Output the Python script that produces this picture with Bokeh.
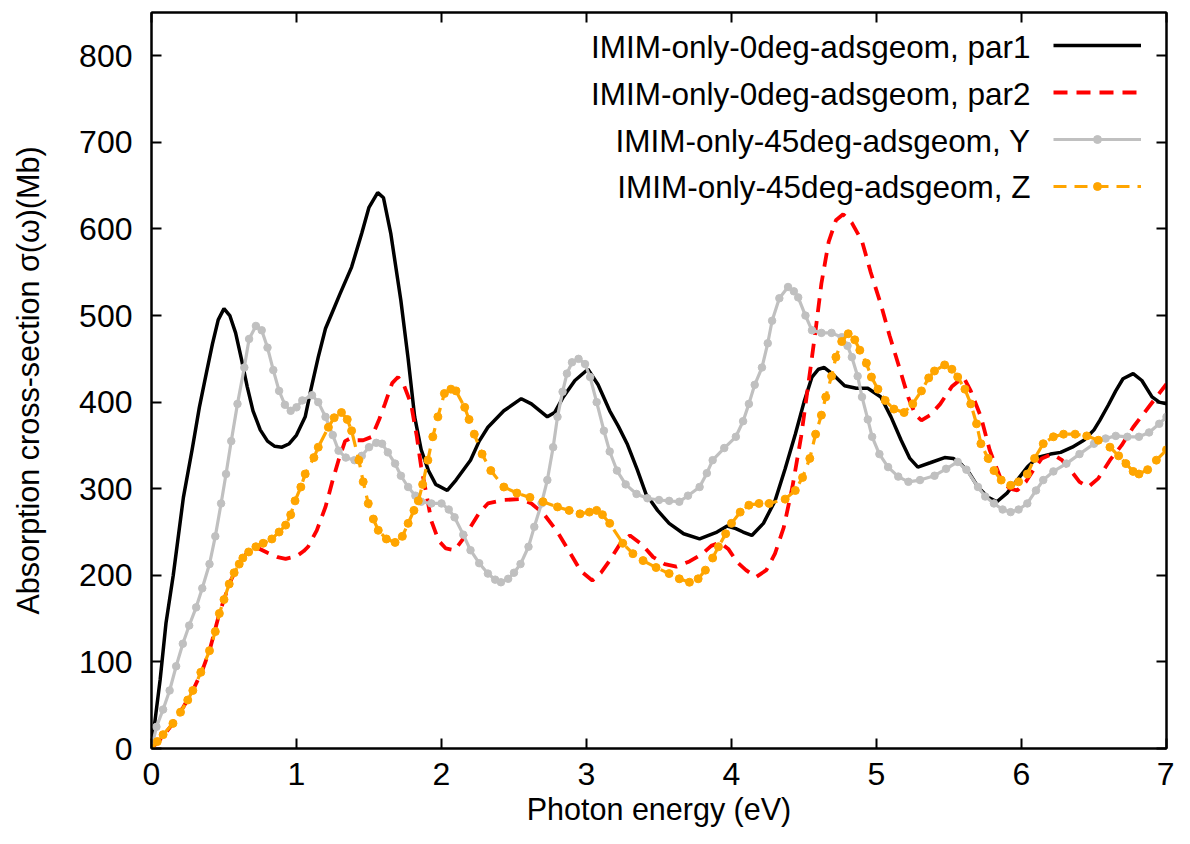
from bokeh.plotting import figure
from bokeh.models import Range1d, FixedTicker, LinearAxis, Legend, LegendItem, Label
from bokeh.embed import file_html
from bokeh.resources import INLINE

# ---------------- data ----------------
par1_x = [0, 0.03, 0.06, 0.10, 0.15, 0.22, 0.28, 0.33, 0.38, 0.42, 0.46, 0.50, 0.54, 0.58, 0.62, 0.66, 0.70,
          0.75, 0.80, 0.85, 0.90, 0.95, 1.00, 1.06, 1.10, 1.15, 1.20, 1.25, 1.30, 1.38, 1.45, 1.50, 1.56, 1.60,
          1.65, 1.72, 1.77, 1.815, 1.86, 1.91, 1.96, 2.04, 2.10, 2.20, 2.26, 2.32, 2.43, 2.55, 2.62, 2.73, 2.78,
          2.84, 2.92, 3.01, 3.08, 3.16, 3.22, 3.28, 3.35, 3.41, 3.49, 3.57, 3.67, 3.78, 3.90, 3.97, 4.03, 4.08,
          4.14, 4.22, 4.30, 4.37, 4.44, 4.50, 4.555, 4.60, 4.64, 4.70, 4.78, 4.86, 4.94, 5.03, 5.10, 5.17, 5.23,
          5.285, 5.37, 5.47, 5.53, 5.58, 5.64, 5.70, 5.77, 5.83, 5.90, 5.97, 6.04, 6.11, 6.20, 6.27, 6.35, 6.43,
          6.50, 6.54, 6.60, 6.65, 6.70, 6.77, 6.83, 6.90, 6.95, 7.0]
par1_y = [0, 40, 80, 145, 200, 290, 345, 394, 435, 467, 495, 508, 500, 480, 450, 418, 390,
          368, 355, 349, 348, 352, 362, 383, 415, 452, 485, 505, 525, 556, 595, 625, 642, 636,
          595, 517, 450, 383, 345, 321, 305, 298, 310, 333, 355, 371, 390, 404, 398, 383, 388,
          406, 425, 438, 420, 390, 372, 352, 322, 294, 275, 260, 248, 242, 250, 257, 254, 250,
          246, 260, 286, 323, 363, 400, 429, 438, 440, 432, 419, 416, 416, 406, 383, 356, 335,
          325, 330, 336, 335, 329, 318, 302, 290, 285, 295, 310, 325, 336, 340, 342, 348, 356,
          368, 379, 397, 413, 427, 433, 425, 406, 400, 398]

par2_x = [0, 0.07, 0.148, 0.22, 0.285, 0.35, 0.40, 0.468, 0.536, 0.60, 0.65, 0.70, 0.74, 0.80, 0.87, 0.925,
          1.00, 1.05, 1.08, 1.14, 1.20, 1.25, 1.29, 1.335, 1.37, 1.40, 1.46, 1.52, 1.57, 1.61, 1.66, 1.70, 1.74,
          1.79, 1.83, 1.86, 1.90, 1.93, 1.98, 2.03, 2.09, 2.14, 2.20, 2.26, 2.32, 2.43, 2.545, 2.62, 2.705, 2.80,
          2.89, 2.96, 3.04, 3.10, 3.16, 3.23, 3.30, 3.38, 3.46, 3.54, 3.62, 3.71, 3.80, 3.86, 3.92, 3.98, 4.04,
          4.10, 4.17, 4.24, 4.30, 4.36, 4.42, 4.48, 4.53, 4.58, 4.62, 4.67, 4.72, 4.77, 4.83, 4.90, 4.96, 5.03,
          5.09, 5.15, 5.22, 5.27, 5.31, 5.37, 5.44, 5.52, 5.60, 5.65, 5.72, 5.78, 5.86, 5.92, 5.97, 6.03, 6.08,
          6.14, 6.21, 6.28, 6.34, 6.40, 6.46, 6.53, 6.61, 6.69, 6.77, 6.88, 7.0]
par2_y = [0, 12, 29, 48, 67, 90, 113, 156, 190, 213, 224, 230, 231, 226, 221, 219,
          222, 228, 233, 252, 279, 310, 333, 355, 358, 356, 356, 360, 380, 398, 422, 429, 420,
          398, 360, 325, 290, 263, 240, 231, 229, 240, 256, 272, 283, 287, 288, 283, 271, 250,
          225, 205, 194, 203, 217, 236, 246, 236, 221, 213, 210, 216, 225, 234, 238, 230, 215,
          206, 198, 206, 225, 255, 302, 360, 421, 483, 537, 585, 610, 617, 607, 586, 550, 513,
          477, 444, 405, 385, 379, 385, 398, 418, 429, 413, 383, 345, 310, 300, 298, 308, 321,
          335, 340, 333, 321, 308, 302, 312, 333, 350, 371, 395, 421]

y45_x = [0, 0.034, 0.08, 0.125, 0.17, 0.216, 0.26, 0.308, 0.35, 0.40, 0.44, 0.48, 0.514, 0.55, 0.593, 0.64,
         0.673, 0.72, 0.76, 0.80, 0.84, 0.88, 0.92, 0.96, 1.00, 1.04, 1.107, 1.15, 1.20, 1.25, 1.29, 1.34, 1.40,
         1.45, 1.50, 1.55, 1.59, 1.63, 1.68, 1.72, 1.77, 1.82, 1.86, 1.93, 2.00, 2.05, 2.09, 2.15, 2.20, 2.26,
         2.32, 2.37, 2.41, 2.46, 2.50, 2.545, 2.60, 2.64, 2.69, 2.73, 2.77, 2.80, 2.835, 2.865, 2.90, 2.945,
         2.99, 3.025, 3.07, 3.12, 3.16, 3.21, 3.27, 3.345, 3.42, 3.50, 3.57, 3.64, 3.70, 3.78, 3.83, 3.87,
         3.95, 4.03, 4.08, 4.12, 4.16, 4.21, 4.25, 4.28, 4.33, 4.39, 4.43, 4.46, 4.51, 4.555, 4.62, 4.69,
         4.76, 4.80, 4.83, 4.87, 4.90, 4.94, 4.97, 5.02, 5.08, 5.15, 5.22, 5.30, 5.40, 5.48, 5.56, 5.62, 5.70,
         5.75, 5.81, 5.87, 5.925, 5.98, 6.04, 6.10, 6.15, 6.22, 6.31, 6.40, 6.50, 6.58, 6.65, 6.73, 6.81,
         6.88, 6.95, 7.0]
y45_y = [0, 25, 45, 67, 95, 121, 142, 163, 185, 213, 245, 283, 317, 355, 398, 440,
         473, 488, 483, 463, 437, 413, 397, 390, 394, 402, 408, 400, 383, 362, 344, 336, 333,
         338, 348, 353, 352, 342, 329, 315, 302, 292, 285, 283, 283, 276, 267, 247, 229, 214,
         202, 195, 192, 196, 203, 213, 233, 256, 283, 310, 348, 383, 412, 433, 446, 450,
         444, 429, 400, 367, 343, 321, 305, 294, 289, 287, 286, 285, 292, 302, 318, 333,
         347, 360, 378, 398, 420, 440, 468, 494, 520, 533, 528, 521, 500, 483, 480, 480,
         475, 465, 452, 430, 406, 380, 360, 340, 325, 314, 308, 310, 315, 323, 331, 322, 302,
         291, 283, 276, 273, 276, 283, 298, 310, 320, 329, 340, 352, 358, 361, 360, 360,
         365, 375, 383]

z45_x = [0, 0.04, 0.08, 0.148, 0.20, 0.25, 0.285, 0.34, 0.40, 0.44, 0.468, 0.50, 0.536, 0.57, 0.605, 0.63,
         0.67, 0.72, 0.77, 0.83, 0.88, 0.925, 0.96, 0.99, 1.03, 1.06, 1.12, 1.15, 1.22, 1.26, 1.31, 1.35, 1.38,
         1.43, 1.46, 1.495, 1.53, 1.564, 1.62, 1.68, 1.73, 1.77, 1.81, 1.84, 1.87, 1.906, 1.94, 1.975, 2.02,
         2.065, 2.10, 2.16, 2.19, 2.226, 2.28, 2.34, 2.43, 2.52, 2.61, 2.70, 2.80, 2.88, 2.955, 3.02, 3.07,
         3.11, 3.16, 3.25, 3.32, 3.39, 3.48, 3.57, 3.64, 3.71, 3.77, 3.82, 3.87, 3.91, 3.96, 4.00, 4.06, 4.12,
         4.19, 4.26, 4.37, 4.44, 4.49, 4.54, 4.58, 4.62, 4.65, 4.69, 4.72, 4.76, 4.805, 4.85, 4.885, 4.93,
         4.965, 5.01, 5.06, 5.12, 5.19, 5.25, 5.31, 5.36, 5.40, 5.47, 5.52, 5.56, 5.61, 5.65, 5.69, 5.72,
         5.77, 5.81, 5.86, 5.925, 5.98, 6.04, 6.09, 6.15, 6.22, 6.29, 6.37, 6.45, 6.53, 6.61, 6.67, 6.72,
         6.77, 6.81, 6.87, 6.93, 7.0]
z45_y = [0, 8, 16, 29, 42, 56, 67, 88, 113, 135, 156, 172, 190, 203, 213, 220,
         227, 233, 237, 242, 250, 258, 270, 286, 302, 317, 336, 348, 371, 382, 388, 380, 367,
         333, 308, 283, 265, 252, 242, 238, 245, 260, 275, 286, 305, 333, 360, 383, 410,
         415, 413, 394, 380, 363, 340, 321, 302, 295, 290, 285, 279, 275, 271, 273, 275,
         270, 260, 237, 225, 217, 209, 202, 196, 192, 196, 206, 220, 233, 248, 260, 273, 281,
         283, 283, 288, 298, 313, 335, 363, 385, 406, 430, 452, 470, 479, 472, 460, 445,
         429, 415, 402, 392, 388, 398, 413, 428, 436, 443, 438, 429, 415, 398, 375, 352,
         335, 321, 310, 304, 308, 317, 335, 352, 360, 363, 363, 361, 356, 348, 338, 329,
         320, 317, 322, 333, 345]

series_names = ["IMIM-only-0deg-adsgeom, par1", "IMIM-only-0deg-adsgeom, par2",
                "IMIM-only-45deg-adsgeom, Y", "IMIM-only-45deg-adsgeom, Z"]
x_ticks = [0, 1, 2, 3, 4, 5, 6, 7]
y_ticks = [0, 100, 200, 300, 400, 500, 600, 700, 800]
x_title = "Photon energy (eV)"
y_title = "Absorption cross-section σ(ω)(Mb)"

# ---------------- figure ----------------
FONT = "Liberation Sans"
p = figure(width=1174, height=828, output_backend="svg", toolbar_location=None,
           x_range=Range1d(0, 7), y_range=Range1d(0, 850),
           min_border_left=151, min_border_right=8, min_border_top=12, min_border_bottom=80)
p.background_fill_color = "white"
p.border_fill_color = "white"
p.grid.visible = False
p.outline_line_color = "black"
p.outline_line_width = 2

for ax in (p.xaxis[0], p.yaxis[0]):
    ax.major_tick_in = 10
    ax.major_tick_out = 0
    ax.minor_tick_in = 0
    ax.minor_tick_out = 0
    ax.axis_line_width = 2
    ax.major_tick_line_width = 2
    ax.major_label_text_font = FONT
    ax.major_label_text_font_size = "32px"
    ax.major_label_text_color = "black"
    ax.axis_label_text_font = FONT
    ax.axis_label_text_font_size = "30.5px"
    ax.axis_label_text_font_style = "normal"
    ax.axis_label_text_color = "black"

p.xaxis.ticker = FixedTicker(ticks=x_ticks)
p.yaxis.ticker = FixedTicker(ticks=y_ticks)
p.xaxis.axis_label = x_title
p.yaxis.axis_label = y_title
p.xaxis.major_label_standoff = 14
p.xaxis.axis_label_standoff = 4
p.yaxis.major_label_standoff = 19
p.yaxis.axis_label_standoff = 31

# mirrored ticks (top / right), no labels
def mirror_axis(ticks):
    return LinearAxis(ticker=FixedTicker(ticks=ticks),
                      major_label_overrides={t: "" for t in ticks},
                      major_label_standoff=0, major_tick_in=10, major_tick_out=0,
                      minor_tick_in=0, minor_tick_out=0, axis_line_width=2, major_tick_line_width=2)

p.add_layout(mirror_axis(x_ticks), "above")
p.add_layout(mirror_axis(y_ticks), "right")

# ---------------- series ----------------
r1 = p.line(par1_x, par1_y, line_color="black", line_width=3.5)
r2 = p.line(par2_x, par2_y, line_color="#ff0000", line_width=3.8, line_dash="14 9")
r3 = p.line(y45_x, y45_y, line_color="#c0c0c0", line_width=3.2)
r3m = p.scatter(y45_x, y45_y, size=7.5, fill_color="#c0c0c0", line_color="#c0c0c0")
r4 = p.line(z45_x, z45_y, line_color="#ffa500", line_width=3.2, line_dash="13 8")
r4m = p.scatter(z45_x, z45_y, size=8, fill_color="#ffa500", line_color="#ffa500")

legend = Legend(items=[LegendItem(label=" ", renderers=[r1]),
                       LegendItem(label=" ", renderers=[r2]),
                       LegendItem(label=" ", renderers=[r3, r3m]),
                       LegendItem(label=" ", renderers=[r4, r4m])],
                location=(902, 552), glyph_width=88, glyph_height=20, spacing=27,
                padding=0, margin=0, label_text_font_size="10px", label_standoff=0,
                border_line_alpha=0, background_fill_alpha=0)
p.add_layout(legend)

label_y = [810, 756, 702, 648]
for name, ly in zip(series_names, label_y):
    p.add_layout(Label(x=6.062, y=ly, text=name, text_align="right", text_baseline="middle",
                       text_font=FONT, text_font_size="31.5px", text_color="black"))

open("out.html", "w").write(file_html(p, INLINE))
